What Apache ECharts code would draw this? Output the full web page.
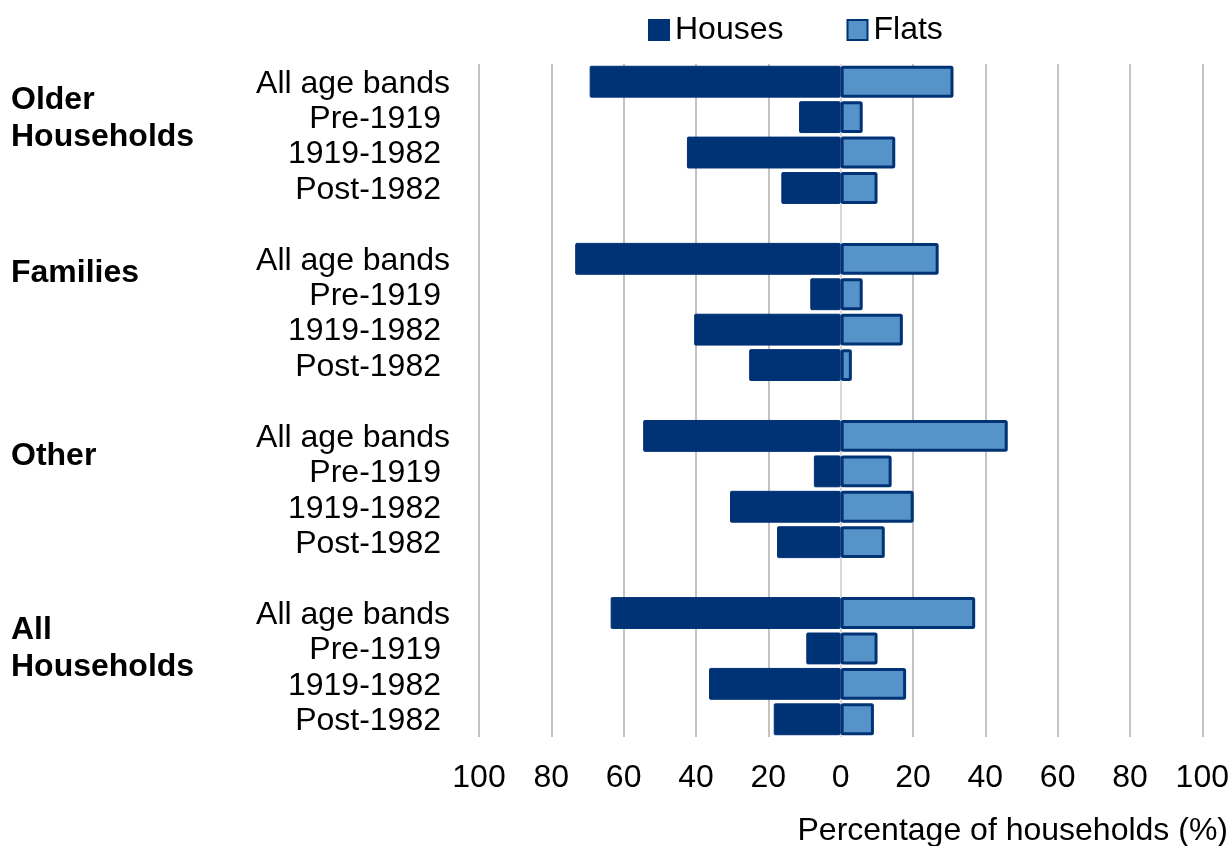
<!DOCTYPE html>
<html><head><meta charset="utf-8">
<script src="https://cdn.jsdelivr.net/npm/echarts@6/dist/echarts.min.js"></script>
<style>html,body{margin:0;padding:0;background:#fff}#c{width:1232px;height:846px}</style>
</head><body><div id="c"></div>
<script>
const groups = ['Older Households', 'Families', 'Other', 'All Households'];
const ageBands = ['All age bands', 'Pre-1919', '1919-1982', 'Post-1982'];
const housesOlder = [69.4, 11.5, 42.5, 16.4];
const housesFamilies = [73.4, 8.4, 40.5, 25.3];
const housesOther = [54.6, 7.4, 30.6, 17.6];
const housesAll = [63.6, 9.5, 36.4, 18.5];
const flatsOlder = [31.2, 6.1, 15.1, 10.2];
const flatsFamilies = [27.1, 6.1, 17.2, 3.1];
const flatsOther = [46.2, 14.1, 20.2, 12.2];
const flatsAll = [37.2, 10.2, 18.1, 9.2];
const xTicks = [-100, -80, -60, -40, -20, 0, 20, 40, 60, 80, 100];

const housesByGroup = [housesOlder, housesFamilies, housesOther, housesAll];
const flatsByGroup = [flatsOlder, flatsFamilies, flatsOther, flatsAll];

const cats = [], hData = [], fData = [];
groups.forEach((g, gi) => {
  ageBands.forEach((b, bi) => {
    cats.push(g + '|' + b);
    hData.push(-housesByGroup[gi][bi]);
    fData.push(flatsByGroup[gi][bi]);
  });
  if (gi < groups.length - 1) { cats.push(g + '|gap'); hData.push(null); fData.push(null); }
});

const DARK = '#003276', LIGHT = '#5593c8';
const FONT = '"Liberation Sans", Arial, sans-serif';
const FS = 32;
const chart = echarts.init(document.getElementById('c'), null, {renderer: 'canvas'});
const gridColors = xTicks.map(v => v === 0 ? '#d9d9d9' : '#c3c3c3');
chart.setOption({
  animation: false,
  textStyle: {fontFamily: FONT},
  legend: {
    top: 14, left: 648, padding: 0, itemWidth: 20, itemHeight: 20, itemGap: 63, icon: 'rect',
    textStyle: {fontSize: FS, color: '#000', fontFamily: FONT, padding: [0, 0, 0, 1]},
    data: ['Houses', 'Flats']
  },
  grid: {left: 479, right: 27, top: 64, bottom: 109, containLabel: false},
  xAxis: {
    type: 'value', min: -100, max: 100, interval: 20,
    axisLine: {show: false}, axisTick: {show: false},
    axisLabel: {fontSize: FS, color: '#000', margin: 25, fontFamily: FONT,
      formatter: v => String(Math.abs(v))},
    splitLine: {show: true, lineStyle: {color: gridColors, width: 2}}
  },
  yAxis: {
    type: 'category', inverse: true, data: cats,
    axisLine: {show: false}, axisTick: {show: false},
    axisLabel: {fontSize: FS, color: '#000', margin: 29, fontFamily: FONT, interval: 0,
      formatter: v => { const b = v.split('|')[1]; if (b === 'gap') return ''; return b === 'All age bands' ? '{a|' + b + '}' : '{p|' + b + '}'; },
      rich: {
        a: {fontSize: FS, color: '#000', fontFamily: FONT, padding: [4, 0, 0, 0]},
        p: {fontSize: FS, color: '#000', fontFamily: FONT, padding: [4, 9, 0, 0]}
      }
    }
  },
  series: [
    {name: 'Houses', type: 'bar', data: hData, barWidth: '90%', barGap: '-100%',
      itemStyle: {color: DARK, borderColor: DARK, borderWidth: 1, borderRadius: 1}},
    {name: 'Flats', type: 'bar', data: fData, barWidth: '90%', barGap: '-100%',
      itemStyle: {color: LIGHT, borderColor: DARK, borderWidth: 3, borderRadius: 1}}
  ],
  graphic: [
    {type: 'text', left: 11, top: 82, style: {text: 'Older\nHouseholds', font: 'bold 32px ' + FONT, lineHeight: 37, fill: '#000'}},
    {type: 'text', left: 11, top: 255, style: {text: 'Families', font: 'bold 32px ' + FONT, lineHeight: 37, fill: '#000'}},
    {type: 'text', left: 11, top: 438, style: {text: 'Other', font: 'bold 32px ' + FONT, lineHeight: 37, fill: '#000'}},
    {type: 'text', left: 11, top: 612, style: {text: 'All\nHouseholds', font: 'bold 32px ' + FONT, lineHeight: 37, fill: '#000'}},
    {type: 'text', right: 4, top: 815, style: {text: 'Percentage of households (%)', font: '32px ' + FONT, fill: '#000'}}
  ]
});
</script></body></html>
